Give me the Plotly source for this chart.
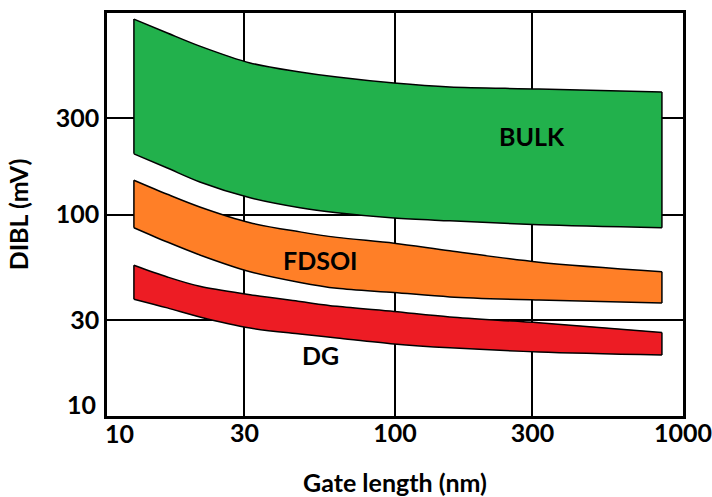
import math
import plotly.graph_objects as go

# Gate length samples (nm) along the bands
gate_length_nm = [12.4, 16.2, 21.0, 31.4, 46.8, 62.9, 99.2, 155, 316, 845]

# DIBL band limits (mV)
bulk_upper = [933, 796, 685, 565, 510, 481, 449, 429, 420, 405]
bulk_lower = [200, 170, 145, 121, 108, 102, 96, 93, 89, 86]
fdsoi_upper = [148, 126, 109, 91, 82, 77, 72, 66, 58, 52]
fdsoi_lower = [86, 73, 63, 52, 46, 43, 41, 39, 37.6, 36.4]
dg_upper = [56, 49, 44, 40, 37, 35, 33, 31, 29, 26]
dg_lower = [38, 34.4, 31, 27.3, 25.5, 24.4, 22.8, 21.8, 20.8, 20.1]

band_names = ["BULK", "FDSOI", "DG"]
band_colors = ["#22B14C", "#FF7F27", "#ED1C24"]
band_upper = [bulk_upper, fdsoi_upper, dg_upper]
band_lower = [bulk_lower, fdsoi_lower, dg_lower]

# label anchor points (nm, mV)
label_x = [299, 55, 55]
label_y = [246, 59.5, 20.1]

tick_vals = [10, 30, 100, 300, 1000]
tick_text = ["", "30", "100", "300", "1000"]
corner_label = "10"

FONT = "Lato"
BOLD25 = dict(family=FONT, size=25, color="black", weight="bold")
EDGE = dict(color="black", width=1.5)

fig = go.Figure()
for name, col, up, lo in zip(band_names, band_colors, band_upper, band_lower):
    # upper edge
    fig.add_trace(go.Scatter(
        x=gate_length_nm, y=up, mode="lines",
        line=dict(color="black", width=1.5, shape="spline", smoothing=0.9),
        name=name, hoverinfo="skip",
    ))
    # lower edge, filled up to the upper edge
    fig.add_trace(go.Scatter(
        x=gate_length_nm, y=lo, mode="lines", fill="tonexty", fillcolor=col,
        line=dict(color="black", width=1.5, shape="spline", smoothing=0.9),
        name=name, hoverinfo="skip",
    ))
    # vertical end caps
    for i in (0, -1):
        fig.add_trace(go.Scatter(
            x=[gate_length_nm[i], gate_length_nm[i]], y=[up[i], lo[i]],
            mode="lines", line=EDGE, hoverinfo="skip",
        ))

for name, lx, ly in zip(band_names, label_x, label_y):
    fig.add_annotation(
        x=math.log10(lx), y=math.log10(ly), text=name, showarrow=False,
        font=BOLD25,
    )

# corner "10" labels, offset from the corner as in the original
fig.add_annotation(x=math.log10(tick_vals[0]), xref="x", y=0, yref="paper",
                   text=corner_label, showarrow=False, font=BOLD25,
                   xanchor="center", yanchor="middle", xshift=12, yshift=-17)
fig.add_annotation(x=0, xref="paper", y=math.log10(tick_vals[0]), yref="y",
                   text=corner_label, showarrow=False, font=BOLD25,
                   xanchor="right", yanchor="middle", xshift=-9, yshift=12)

axis_common = dict(
    type="log", range=[1, 3], tickvals=tick_vals, ticktext=tick_text,
    showgrid=True, gridcolor="black", gridwidth=2,
    showline=True, linecolor="black", linewidth=2.5, mirror=True,
    ticks="", zeroline=False, tickfont=BOLD25,
)

fig.update_xaxes(
    **axis_common, ticklabeloverflow="allow", ticklabelstandoff=-7,
    title=dict(text="Gate length (nm)", standoff=30, font=BOLD25),
)
fig.update_yaxes(
    **axis_common,
    title=dict(text="DIBL (mV)", standoff=20, font=BOLD25),
)

fig.update_layout(
    width=712, height=497,
    margin=dict(l=107, r=29, t=13, b=81, autoexpand=False),
    plot_bgcolor="white", paper_bgcolor="white",
    showlegend=False,
)

fig.write_html("out.html")
